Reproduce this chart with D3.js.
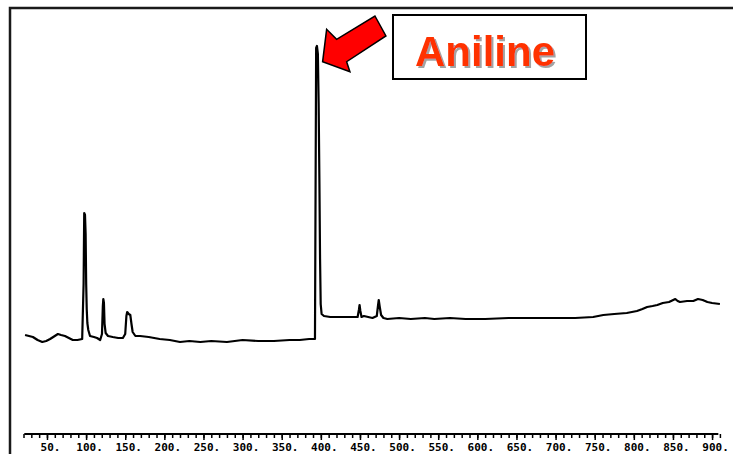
<!DOCTYPE html>
<html>
<head>
<meta charset="utf-8">
<script src="https://cdn.jsdelivr.net/npm/d3@7"></script>
<style>
  html, body { margin: 0; padding: 0; background: #fff; }
  svg { display: block; }
</style>
</head>
<body>
<div id="chart"></div>
<script>
// spectrum trace (x: axis units, y: height above the axis)
const shift = [22, 27, 32, 38, 44, 49, 54, 60, 64, 68, 73, 78, 83, 89, 95, 96.8, 97.6, 98.6, 99.4, 100.1, 100.8, 101.6, 102.8, 105, 110, 114, 118, 120.3, 121.4, 122, 122.8, 123.6, 125, 128, 134, 141, 147, 150, 151.5, 152.5, 154.5, 156.5, 158, 159.5, 163, 169, 180, 194, 207, 220, 232, 246, 260, 280, 300, 320, 340, 360, 373, 385, 392.5, 394, 395, 396.2, 397.2, 398.2, 399, 399.8, 401, 404, 412, 420, 435, 447, 448.6, 449.5, 450.5, 452, 455, 466, 471.5, 473, 474, 475.3, 477, 480, 485, 500, 515, 533, 545, 565, 585, 610, 640, 670, 706, 725, 748, 761, 775, 791, 804, 811, 817, 824, 830, 837, 845, 853, 856, 859, 868, 876, 882, 888, 894, 900, 910];
const intensity = [99, 98, 97, 94, 92, 93, 95, 98, 100, 99, 98, 96, 94, 94, 95, 150, 221, 219, 200, 150, 125, 111, 104, 98, 97, 96, 94, 100, 128, 135, 131, 110, 101, 98, 97, 96, 96, 100, 118, 122, 120, 119, 110, 102, 98, 98, 97, 95, 94, 92, 93, 92, 93, 92, 94, 93, 93, 94, 94, 95, 95, 386, 388, 380, 330, 250, 175, 130, 120, 118, 117, 117, 117, 117, 124, 129, 123, 117, 118, 116, 118, 128, 134, 127, 119, 116, 115, 116, 115, 116, 115, 116, 115, 115, 116, 116, 116, 116, 117, 119, 120, 121, 123, 125, 127, 128, 129, 131, 132, 135, 133, 132, 133, 133, 135, 134, 132, 131, 130];

const tickLabels = [50, 100, 150, 200, 250, 300, 350, 400, 450, 500, 550, 600, 650, 700, 750, 800, 850, 900];
const minorTicks = d3.range(20, 911, 10);
const annotation = 'Aniline';
const annotatedPeak = 395;

const width = 733, height = 454;
const axisY = 434;

const svg = d3.select('#chart').append('svg')
  .attr('width', width)
  .attr('height', height);

svg.append('rect').attr('width', width).attr('height', height).attr('fill', '#fff');

const defs = svg.append('defs');
defs.append('filter')
  .attr('id', 'shadow')
  .attr('x', '-10%').attr('y', '-10%')
  .attr('width', '130%').attr('height', '140%')
  .append('feDropShadow')
  .attr('dx', 2).attr('dy', 2)
  .attr('stdDeviation', 0.6)
  .attr('flood-color', '#999')
  .attr('flood-opacity', 0.9);

// frame left by the scan
svg.append('path')
  .attr('d', `M10,${height} L10,8 L${width},8`)
  .attr('fill', 'none')
  .attr('stroke', '#1a1a1a')
  .attr('stroke-width', 2.5);

const xScale = d3.scaleLinear().domain([20, 910]).range([23.5, 719.9]);
const yScale = d3.scaleLinear().domain([0, 400]).range([axisY, 34]);

const data = shift.map((s, i) => ({ x: s, y: intensity[i] }));

const line = d3.line()
  .x(d => xScale(d.x))
  .y(d => yScale(d.y));

svg.append('path')
  .attr('d', line(data))
  .attr('fill', 'none')
  .attr('stroke', '#000')
  .attr('stroke-width', 2.2)
  .attr('stroke-linejoin', 'round');

// minor ticks
svg.append('g')
  .attr('transform', `translate(0,${axisY})`)
  .call(d3.axisBottom(xScale).tickValues(minorTicks).tickSize(4).tickFormat(''))
  .call(g => g.select('.domain').attr('stroke-width', 2).attr('d', `M${xScale(21)},0H${xScale(908)}`))
  .call(g => g.selectAll('.tick line').attr('stroke-width', 1.5));

// labelled ticks
svg.append('g')
  .attr('transform', `translate(0,${axisY})`)
  .call(d3.axisBottom(xScale).tickValues(tickLabels).tickSize(6).tickFormat(d => d + '.'))
  .call(g => g.select('.domain').remove())
  .call(g => g.selectAll('.tick line').attr('stroke-width', 1.5))
  .call(g => g.selectAll('.tick text')
    .attr('y', 17)
    .attr('dy', 0)
    .attr('dx', 3)
    .attr('fill', '#000')
    .style('font-family', '"DejaVu Sans Mono", monospace')
    .style('font-weight', 'bold')
    .style('font-size', '11px'));

// arrow pointing at the main peak
const tipX = xScale(annotatedPeak) + 5.7;
const tipY = yScale(intensity[shift.indexOf(annotatedPeak)]) + 15.7;
const arrowPts = [[0, 0], [4, -32.4], [14, -22.4], [52.3, -45.7], [63.3, -25.7], [24, -0], [27.3, 10]];
svg.append('polygon')
  .attr('points', arrowPts.map(p => [tipX + p[0], tipY + p[1]].join(',')).join(' '))
  .attr('fill', '#ff0000')
  .attr('stroke', '#000')
  .attr('stroke-width', 1.5)
  .attr('stroke-linejoin', 'miter');

// label box
svg.append('rect')
  .attr('x', 393).attr('y', 15)
  .attr('width', 193).attr('height', 64)
  .attr('fill', '#fff')
  .attr('stroke', '#000')
  .attr('stroke-width', 2);

svg.append('text')
  .attr('x', 415).attr('y', 66)
  .attr('fill', '#ff3300')
  .attr('filter', 'url(#shadow)')
  .style('font-family', '"Liberation Sans", Arial, sans-serif')
  .style('font-weight', 'bold')
  .style('font-size', '42px')
  .text(annotation);
</script>
</body>
</html>
